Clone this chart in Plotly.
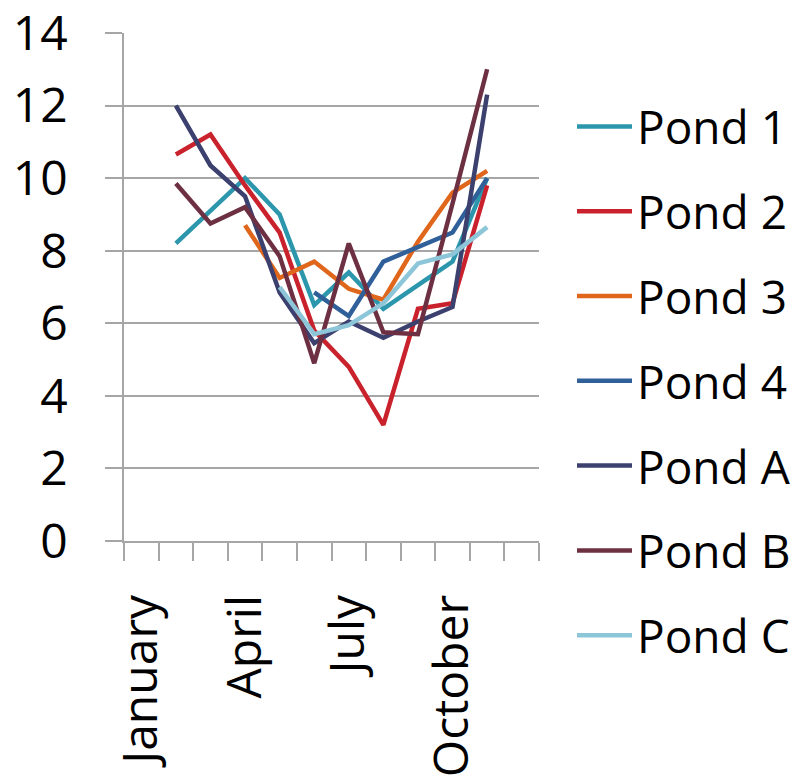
import plotly.graph_objects as go

months = ["January", "February", "March", "April", "May", "June",
          "July", "August", "September", "October", "November", "December"]
tick_text = ["January", "", "", "April", "", "", "July", "", "", "October", "", ""]

pond_1 = [None, 8.2, 9.1, 10.0, 9.0, 6.5, 7.4, 6.4, 7.05, 7.7, 10.0, None]
pond_2 = [None, 10.65, 11.2, 9.8, 8.5, 5.8, 4.8, 3.2, 6.4, 6.55, 9.8, None]
pond_3 = [None, None, None, 8.7, 7.25, 7.7, 6.95, 6.65, 8.25, 9.6, 10.2, None]
pond_4 = [None, None, None, None, None, 6.85, 6.2, 7.7, 8.1, 8.5, 10.0, None]
pond_a = [None, 12.0, 10.35, 9.5, 6.85, 5.45, 6.05, 5.6, 6.05, 6.45, 12.3, None]
pond_b = [None, 9.85, 8.75, 9.2, 7.85, 4.9, 8.2, 5.75, 5.7, 9.3, 13.0, None]
pond_c = [None, None, None, None, 7.0, 5.7, 5.95, 6.55, 7.65, 7.9, 8.65, None]

series = [
    ("Pond 1", pond_1, "#2B96AC"),
    ("Pond 2", pond_2, "#C9222C"),
    ("Pond 3", pond_3, "#E0661B"),
    ("Pond 4", pond_4, "#30609A"),
    ("Pond A", pond_a, "#3C406E"),
    ("Pond B", pond_b, "#6D3043"),
    ("Pond C", pond_c, "#8DC6D8"),
]

FONT = "Open Sans"
GRID = "#A6A6A6"

fig = go.Figure()
for i, (name, vals, color) in enumerate(series):
    fig.add_trace(go.Scatter(
        x=months, y=vals, name=name, mode="lines",
        line=dict(color=color, width=4.5),
        legendgroup=f"g{i}",
        connectgaps=False,
    ))

fig.update_layout(
    width=802, height=784,
    margin=dict(l=124, r=263, t=33, b=243, autoexpand=False),
    paper_bgcolor="white", plot_bgcolor="white",
    font=dict(family=FONT, color="black", size=46),
    showlegend=True,
    legend=dict(
        xref="container", yref="container",
        x=572 / 802, y=1 - 90 / 784,
        xanchor="left", yanchor="top",
        font=dict(family=FONT, size=46, color="black"),
        tracegroupgap=22,
        traceorder="grouped",
        itemwidth=55,
        maxheight=760,
        bgcolor="rgba(0,0,0,0)",
    ),
    xaxis=dict(
        type="category",
        categoryorder="array", categoryarray=months,
        range=[-0.5, 11.5],
        tickmode="array", tickvals=months, ticktext=tick_text,
        tickson="boundaries",
        ticks="outside", ticklen=18, tickwidth=1.5, tickcolor=GRID,
        showline=True, linecolor=GRID, linewidth=1.5,
        showgrid=False, zeroline=False,
        tickangle=-90,
        ticklabelstandoff=33,
        ticklabeloverflow="allow",
        automargin=False,
        tickfont=dict(family=FONT, size=48, color="black"),
    ),
    yaxis=dict(
        range=[0, 14], tick0=0, dtick=2,
        ticks="outside", ticklen=17, tickwidth=1.5, tickcolor=GRID,
        showline=True, linecolor=GRID, linewidth=1.5,
        showgrid=True, gridcolor=GRID, gridwidth=1.5,
        zeroline=False,
        ticklabelstandoff=28,
        ticklabeloverflow="allow",
        automargin=False,
        tickfont=dict(family=FONT, size=48, color="black"),
    ),
)

fig.write_html("out.html", config={"displayModeBar": False},
               post_script="document.body.style.margin='0';")
